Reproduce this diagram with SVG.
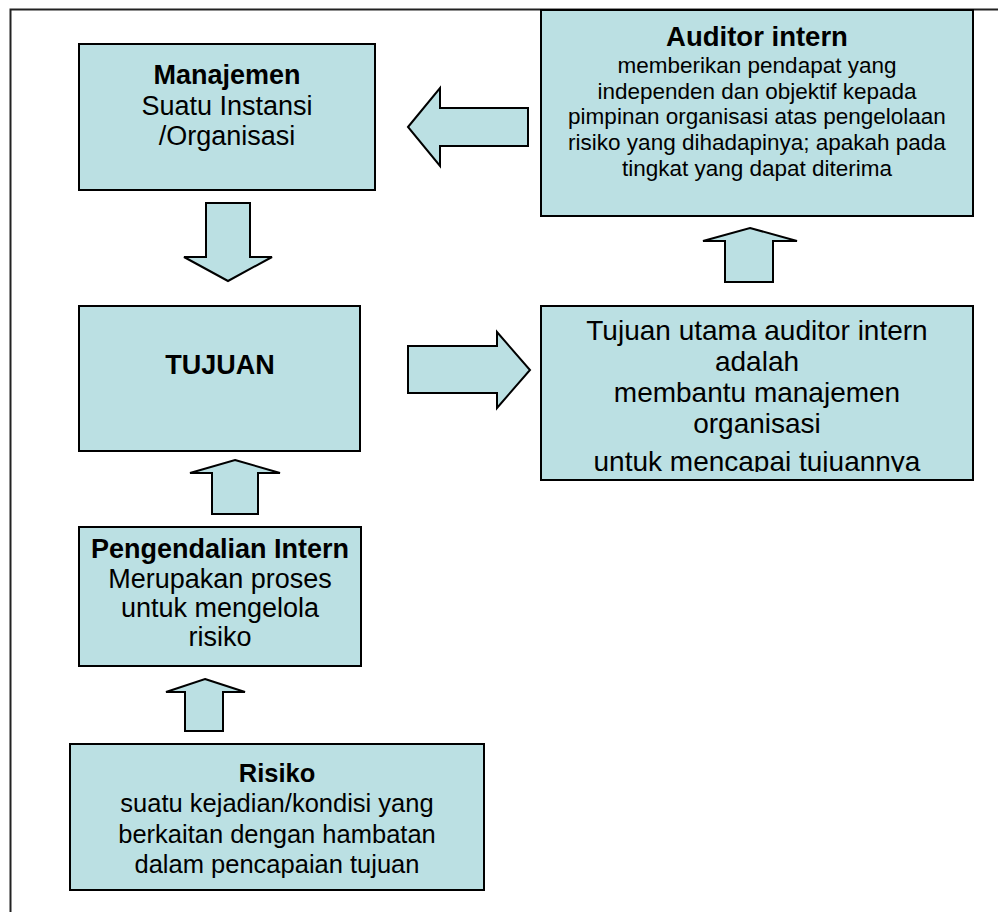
<svg xmlns="http://www.w3.org/2000/svg" width="998" height="912" viewBox="0 0 998 912">
<style>
.box{fill:#BBE0E3;stroke:#000;stroke-width:2}
.arr{fill:#BBE0E3;stroke:#000;stroke-width:2;stroke-linejoin:miter}
text{font-family:"Liberation Sans",Arial,sans-serif;fill:#000;text-anchor:middle}
.t{font-size:27px;font-weight:bold}
.b{font-size:27px}
.m{font-size:28px}
.r{font-size:25.5px}
.rt{font-size:25.5px;font-weight:bold}
.s{font-size:22.5px}
.st{font-size:27.5px;font-weight:bold}
</style>
<defs>
<clipPath id="clipR"><rect x="542" y="307" width="430" height="165"/></clipPath>
</defs>
<path d="M10.5,912 V9.5 H998" fill="none" stroke="#222" stroke-width="2"/>
<g id="connectors">
<polygon class="arr" points="408,127 440,88 440,108 528,108 528,146 440,146 440,166"/>
<polygon class="arr" points="206,203 250,203 250,257 272,257 228,281 184,257 206,257"/>
<polygon class="arr" points="750,228 797,241 773,241 773,282 725,282 725,241 703,241"/>
<polygon class="arr" points="408,346 497,346 497,332 530,370 497,408 497,393 408,393"/>
<polygon class="arr" points="235,460 280,473 258,473 258,514 212,514 212,473 190,473"/>
<polygon class="arr" points="205,679 245,692 223,692 223,731 185,731 185,692 166,692"/>
</g>
<g id="manajemen">
<rect class="box" x="79" y="44" width="296" height="146"/>
<text class="t" x="227" y="84">Manajemen</text>
<text class="b" x="227" y="115">Suatu Instansi</text>
<text class="b" x="227" y="145">/Organisasi</text>
</g>
<g id="auditor">
<rect class="box" x="541" y="10" width="432" height="206"/>
<text class="st" x="757" y="46">Auditor intern</text>
<text class="s" x="757" y="73">memberikan pendapat yang</text>
<text class="s" x="757" y="99">independen dan objektif kepada</text>
<text class="s" x="757" y="124">pimpinan organisasi atas pengelolaan</text>
<text class="s" x="757" y="150">risiko yang dihadapinya; apakah pada</text>
<text class="s" x="757" y="176">tingkat yang dapat diterima</text>
</g>
<g id="tujuan">
<rect class="box" x="79" y="306" width="281" height="145"/>
<text class="t" x="220" y="374">TUJUAN</text>
</g>
<g id="tujuan-utama">
<rect class="box" x="541" y="306" width="432" height="174"/>
<g clip-path="url(#clipR)">
<text class="m" x="757" y="340">Tujuan utama auditor intern</text>
<text class="m" x="757" y="371">adalah</text>
<text class="m" x="757" y="402">membantu manajemen</text>
<text class="m" x="757" y="433">organisasi</text>
<text class="m" x="757" y="471">untuk mencapai tujuannya</text>
</g>
</g>
<g id="pengendalian">
<rect class="box" x="79" y="527" width="282" height="139"/>
<text class="t" x="220" y="558">Pengendalian Intern</text>
<text class="b" x="220" y="588">Merupakan proses</text>
<text class="b" x="220" y="617">untuk mengelola</text>
<text class="b" x="220" y="646">risiko</text>
</g>
<g id="risiko">
<rect class="box" x="70" y="744" width="414" height="146"/>
<text class="rt" x="277" y="782">Risiko</text>
<text class="r" x="277" y="812">suatu kejadian/kondisi yang</text>
<text class="r" x="277" y="843">berkaitan dengan hambatan</text>
<text class="r" x="277" y="873">dalam pencapaian tujuan</text>
</g>
</svg>
